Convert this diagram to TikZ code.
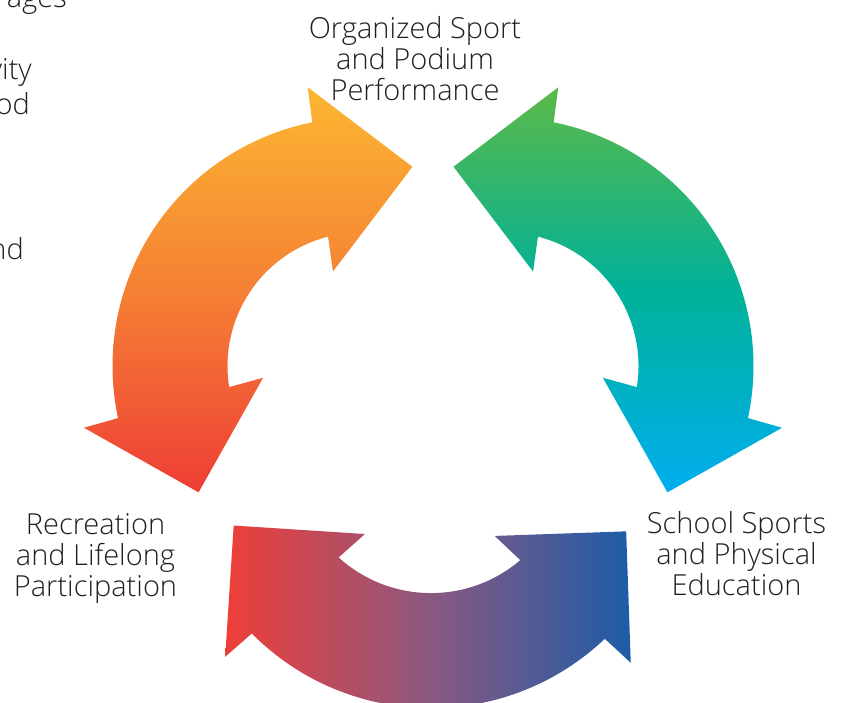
\documentclass[tikz,border=0pt]{standalone}
\usepackage{fontspec}
\IfFontExistsTF{Open Sans Light}{\setmainfont{Open Sans Light}}{\setmainfont{Open Sans}}
\usetikzlibrary{calc}

\definecolor{textgray}{RGB}{35,31,32}
\definecolor{sunyellow}{RGB}{252,183,50}
\definecolor{sunorange}{RGB}{245,128,52}
\definecolor{sunred}{RGB}{238,62,54}
\definecolor{leafgreen}{RGB}{92,185,72}
\definecolor{leafteal}{RGB}{0,177,153}
\definecolor{leafcyan}{RGB}{0,174,239}
\definecolor{duskred}{RGB}{239,62,56}
\definecolor{duskmauve}{RGB}{140,88,128}
\definecolor{duskblue}{RGB}{28,92,168}

\newcommand{\rband}{57.5}
\newcommand{\headhw}{93}
\newcommand{\headtilt}{4.5}

% #1 centre, #2 start angle, #3 end angle, #4 mid radius, #5 shading
\newcommand{\cyclearrow}[5]{%
  \shade[#5]
    ($(#1)+(#2-1:{#4+\rband})$) arc[start angle=#2-1, end angle=#3+1, radius=#4+\rband]
    -- ($(#1)+(#3:#4)+(#3+\headtilt:\headhw)$)
    -- ($(#1)+(#3:#4)+(#3+90+\headtilt:\headhw)$)
    -- ($(#1)+(#3:#4)-(#3+\headtilt:\headhw)$)
    -- ($(#1)+(#3-2:{#4-\rband})$) arc[start angle=#3-2, end angle=#2+2, radius=#4-\rband]
    -- ($(#1)+(#2:#4)-(#2-\headtilt:\headhw)$)
    -- ($(#1)+(#2:#4)+(#2-90-\headtilt:\headhw)$)
    -- ($(#1)+(#2:#4)+(#2-\headtilt:\headhw)$)
    -- cycle;}

\tikzset{
  stage/.style={align=center, inner sep=0pt, text=textgray, font=\fontsize{29}{31}\selectfont},
  scrap/.style={anchor=base east, inner sep=0pt, text=textgray, font=\fontsize{29}{31}\selectfont}
}

\begin{document}
\begin{tikzpicture}[x=1pt, y=1pt]
	\useasboundingbox (0,0) rectangle (841,702);
	\clip (0,0) rectangle (841,702);

	% arc centres
	\coordinate (sunc) at (361,336);
	\coordinate (leafc) at (505,336);
	\coordinate (duskc) at (431,246.4);

	\cyclearrow{sunc}{102.3}{191.1}{191}{top color=sunyellow, bottom color=sunred, middle color=sunorange}
	\cyclearrow{leafc}{-11.1}{77.7}{191}{top color=leafgreen, bottom color=leafcyan, middle color=leafteal}
	\cyclearrow{duskc}{225.8}{312.5}{195}{left color=duskred, right color=duskblue, middle color=duskmauve}

	\node[stage] (podium) at (415,643.8) {Organized Sport\\and Podium\\Performance};
	\node[stage] (recreation) at (95.5,143.5) {Recreation\\and Lifelong\\Participation};
	\node[stage] (school) at (736.5,148.8) {School Sports\\and Physical\\Education};

	% text cut off by the left edge
	\node[scrap] (scrapa) at (67,694.7) {rages};
	\node[scrap] (scrapb) at (32,622) {vity};
	\node[scrap] (scrapc) at (30,587) {od};
	\node[scrap] (scrapd) at (24,442.7) {nd};
\end{tikzpicture}
\end{document}
